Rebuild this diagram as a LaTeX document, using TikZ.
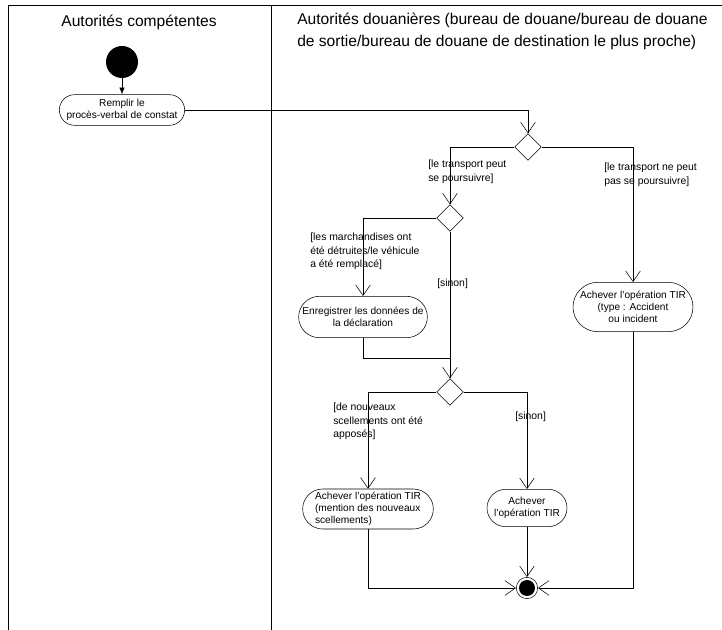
\documentclass[tikz,border=0pt]{standalone}
\usepackage{fontspec}
\setmainfont{Liberation Sans}
\usetikzlibrary{shapes.geometric,shapes.misc,arrows.meta}

\begin{document}
\begin{tikzpicture}[x=0.75pt,y=-0.75pt,
    action/.style={shape=rounded rectangle,draw=black,align=center,inner sep=1pt,
        font=\fontsize{7.6}{9}\selectfont},
    decision/.style={shape=diamond,draw=black,minimum width=20pt,minimum height=20pt,inner sep=0pt},
    guard/.style={anchor=north west,align=left,inner sep=0pt,font=\fontsize{7.8}{10}\selectfont},
    lane/.style={font=\fontsize{11.7}{16.5}\selectfont,inner sep=0pt},
    flow/.style={-{Straight Barb[length=8pt,width=11pt]}}]
        \useasboundingbox (0,0) rectangle (722,630);

        % swimlanes
        \draw (8,630) -- (8,5) -- (722,5);
        \draw (271,5) -- (271,630);
        \node[lane] (lane1) at (139,22) {Autorités compétentes};
        \node[lane,anchor=north west,align=left] (lane2) at (297,13) {Autorités douanières (bureau de douane/bureau de douane\\de sortie/bureau de douane de destination le plus proche)};

        % nodes
        \node[shape=circle,fill=black,minimum size=24pt,inner sep=0pt] (start) at (122,62) {};
        \node[action,minimum width=96pt,minimum height=23pt] (A) at (122,110) {Remplir le\\procès-verbal de constat};
        \node[decision] (D1) at (528,147) {};
        \node[decision] (D2) at (450,218) {};
        \node[action,minimum width=96pt,minimum height=31pt] (B) at (363,317) {Enregistrer les données de\\la déclaration};
        \node[action,minimum width=85pt,minimum height=37pt] (C) at (633,307) {Achever l'opération TIR\\(type : Accident\\ou incident};
        \node[decision] (D3) at (450,392) {};
        \node[action,align=left,minimum width=100pt,minimum height=30pt] (E) at (368,509) {Achever l'opération TIR\\(mention des nouveaux\\scellements)};
        \node[action,minimum width=62pt,minimum height=28pt] (F) at (527,508) {Achever\\l'opération TIR};
        \node[shape=circle,draw=black,minimum size=16pt,inner sep=0pt] (end) at (527,588) {};
        \node[shape=circle,fill=black,minimum size=12pt,inner sep=0pt] (endin) at (end) {};
        \coordinate (merge) at (450,358);

        % guards
        \node[guard] (g1) at (428,160) {[le transport peut\\se poursuivre]};
        \node[guard] (g2) at (604,163) {[le transport ne peut\\pas se poursuivre]};
        \node[guard] (g3) at (310,233) {[les marchandises ont\\été détruites/le véhicule\\a été remplacé]};
        \node[guard] (g4) at (437,279) {[sinon]};
        \node[guard] (g5) at (333,403) {[de nouveaux\\scellements ont été\\apposés]};
        \node[guard] (g6) at (515,412) {[sinon]};

        % flows
        \path [-{Latex[length=5pt,width=4pt]}] (start) edge node {} (A);
        \draw[flow] (A.east) -| (D1.north);
        \draw[flow] (D1.west) -| (D2.north);
        \draw[flow] (D1.east) -| (C.north);
        \draw[flow] (D2.west) -| (B.north);
        \draw[flow] (D2.south) -- (D3.north);
        \draw (B.south) |- (merge);
        \draw[flow] (D3.west) -| (E.north);
        \draw[flow] (D3.east) -| (F.north);
        \draw[flow] (F.south) -- (end.north);
        \draw[flow] (E.south) |- (end.west);
        \draw[flow] (C.south) |- (end.east);
    \end{tikzpicture}
\end{document}
